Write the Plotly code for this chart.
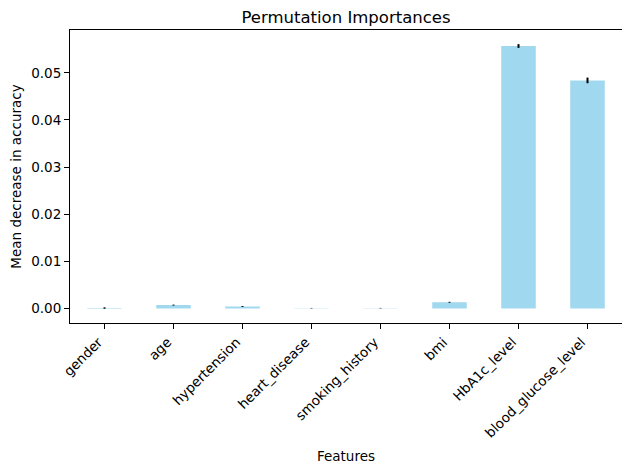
import plotly.graph_objects as go

features = ["gender", "age", "hypertension", "heart_disease", "smoking_history",
            "bmi", "HbA1c_level", "blood_glucose_level"]
importances = [0.00008, 0.0007, 0.0004, 0.00005, 0.00005, 0.0013, 0.0557, 0.0484]
std_errors = [0.00015, 0.0001, 0.0001, 0.00005, 0.00005, 0.0001, 0.0004, 0.0006]

fig = go.Figure()
fig.add_trace(go.Bar(
    x=list(range(len(features))),
    y=importances,
    width=0.5,
    marker=dict(color="rgba(135,206,235,0.8)", line=dict(width=0)),
    error_y=dict(type="data", array=std_errors, visible=True, color="black",
                 thickness=2, width=0),
))

font_family = "DejaVu Sans"
fig.update_layout(
    width=622, height=462,
    margin=dict(l=62, r=8, t=22, b=147, autoexpand=False),
    paper_bgcolor="white", plot_bgcolor="white",
    showlegend=False,
    font=dict(family=font_family, size=13.5, color="black"),
    title=dict(text="Permutation Importances", x=0.5, xref="paper", xanchor="center",
               y=1 - 9/462, yanchor="middle", font=dict(size=16.5)),
    xaxis=dict(
        tickmode="array", tickvals=list(range(len(features))), ticktext=features,
        tickangle=-45, range=[-0.5, 7.5], automargin=False,
        tickfont=dict(size=13.5), ticklabelshift=-6,
        showline=True, linecolor="black", linewidth=1, mirror=True,
        ticks="outside", ticklen=5, tickcolor="black", showgrid=False,
        title=dict(text="Features", standoff=11, font=dict(size=13.5)),
    ),
    yaxis=dict(
        range=[-0.0031, 0.0591], automargin=False,
        tickvals=[0, 0.01, 0.02, 0.03, 0.04, 0.05], tickformat=".2f",
        tickfont=dict(size=13.5),
        showline=True, linecolor="black", linewidth=1, mirror=True,
        ticks="outside", ticklen=5, tickcolor="black", showgrid=False,
        zeroline=False,
        title=dict(text="Mean decrease in accuracy", standoff=8, font=dict(size=13.5)),
    ),
)

fig.write_html("out.html")
